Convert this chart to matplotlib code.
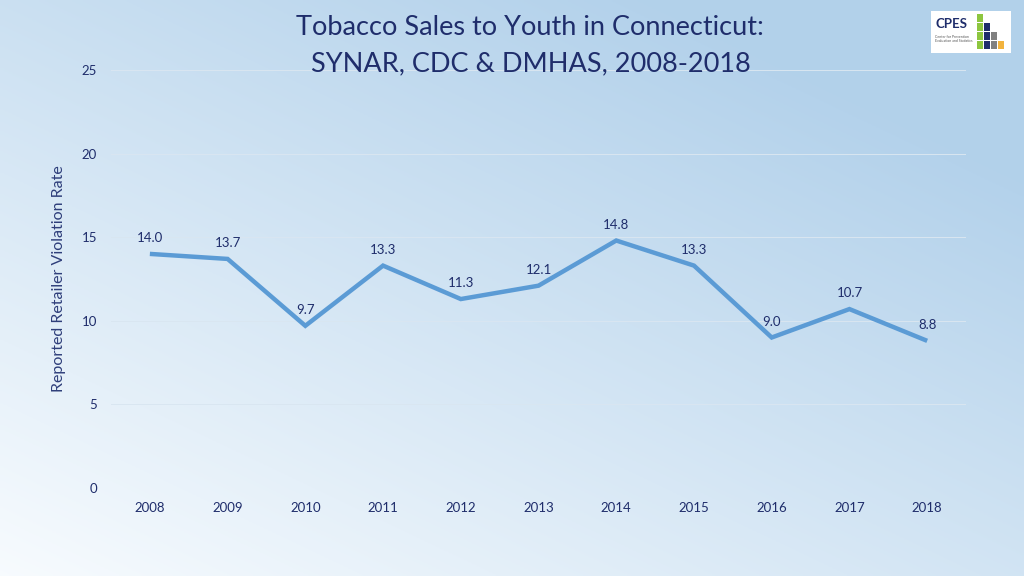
import numpy as np
import matplotlib.pyplot as plt
from matplotlib.patches import Rectangle

years = ['2008', '2009', '2010', '2011', '2012', '2013', '2014', '2015', '2016', '2017', '2018']
rates = [14.0, 13.7, 9.7, 13.3, 11.3, 12.1, 14.8, 13.3, 9.0, 10.7, 8.8]
yticks = [0, 5, 10, 15, 20, 25]

plt.rcParams['font.family'] = ['Lato', 'DejaVu Sans']
navy = '#1F2D6B'
line_col = '#5B9BD5'

fig = plt.figure(figsize=(10.24, 5.76), dpi=100)

# gradient background: pale bottom-left, bluer top-right
bg = fig.add_axes([0, 0, 1, 1], zorder=0)
gx, gy = np.meshgrid(np.linspace(0, 1, 256), np.linspace(0, 1, 256))
t = np.clip(0.55 * gx + 0.65 * gy, 0, 1)
c0 = np.array([0.97, 0.985, 0.997])
c1 = np.array([0.70, 0.82, 0.92])
img = c0 + (c1 - c0) * t[..., None]
bg.imshow(img, origin='lower', extent=[0, 1, 0, 1], aspect='auto')
bg.axis('off')

ax = fig.add_axes([0.1084, 0.1528, 0.835, 0.7257], zorder=1)
ax.patch.set_alpha(0)
x = np.arange(len(years))
ax.plot(x, rates, color=line_col, lw=3.2, solid_capstyle='butt', solid_joinstyle='miter')
for xi, v in zip(x, rates):
    ax.annotate(f'{v:.1f}', (xi, v), xytext=(0, 7), textcoords='offset points',
                ha='center', va='bottom', fontsize=9.5, color=navy)

ax.set_xlim(-0.5, len(years) - 0.5)
ax.set_ylim(0, 25)
ax.set_yticks(yticks)
ax.set_xticks(x)
ax.set_xticklabels(years)
ax.grid(axis='y', color='#D9E6F1', lw=0.7)
ax.set_axisbelow(True)
for s in ax.spines.values():
    s.set_visible(False)
ax.tick_params(length=0, labelsize=9.5, labelcolor=navy)
ax.tick_params(axis='y', pad=10)
ax.tick_params(axis='x', pad=10)
ax.set_ylabel('Reported Retailer Violation Rate', fontsize=11.5, color='#2E3E7A')
ax.yaxis.set_label_coords(-0.053, 0.5)

fig.text(0.518, 0.953, 'Tobacco Sales to Youth in Connecticut:', ha='center', va='center',
         fontsize=19.5, color=navy)
fig.text(0.518, 0.890, 'SYNAR, CDC & DMHAS, 2008-2018', ha='center', va='center',
         fontsize=19.5, color=navy)

# logo
W, H = 1024, 576
def px(x0, y0, w, h, **kw):
    fig.add_artist(Rectangle((x0 / W, 1 - (y0 + h) / H), w / W, h / H,
                             transform=fig.transFigure, **kw))
px(931, 11, 80, 42, facecolor='white', edgecolor='none', zorder=5)
fig.text(935 / W, 1 - 24 / H, 'CPES', fontsize=9.5, fontweight='bold', color=navy, zorder=6, va='center')
fig.text(935 / W, 1 - 39 / H, 'Center for Prevention\nEvaluation and Statistics', fontsize=2.5,
         color='#555555', zorder=6, va='center', linespacing=1.2)
grid = [(0, 0, '#8DC63F'), (0, 1, '#8DC63F'), (1, 1, '#1F2D6B'), (0, 2, '#8DC63F'), (1, 2, '#1F2D6B'),
        (2, 2, '#808080'), (0, 3, '#8DC63F'), (1, 3, '#1F2D6B'), (2, 3, '#808080'), (3, 3, '#F2B33D')]
for cx, cy, col in grid:
    px(977 + cx * 7, 14 + cy * 9, 6, 8, facecolor=col, edgecolor='none', zorder=6)

fig.savefig('out.png', dpi=100)
